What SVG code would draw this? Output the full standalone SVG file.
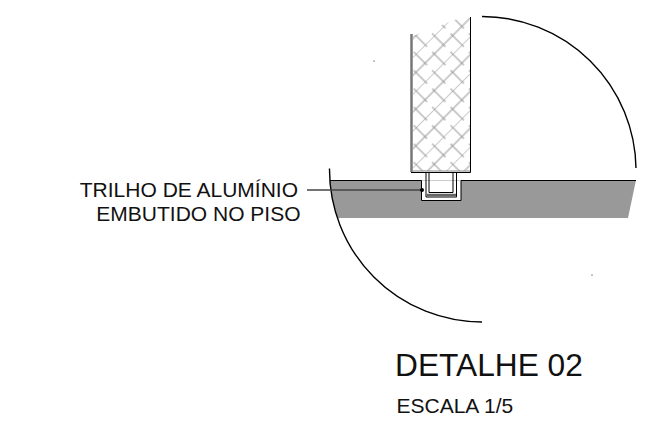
<svg xmlns="http://www.w3.org/2000/svg" width="668" height="445" viewBox="0 0 668 445">
<style>
.t{font-family:"Liberation Sans",Arial,sans-serif;fill:#111}
.arc{fill:none;stroke:#000;stroke-width:1.4}
.k{fill:none;stroke:#000;stroke-width:1}
.h{stroke:#8c8c8c;stroke-width:.9;fill:none}
</style>
<defs>
<pattern id="hatch" width="26" height="26" patternUnits="userSpaceOnUse" patternTransform="translate(413 20) rotate(-45)">
<path class="h" d="M0 0H26M0 13H26M4 -3V16M4 23V26M17 10V26M17 0V3"/>
</pattern>
<clipPath id="wc"><polygon points="413,36 470,14 470,171 413,171"/></clipPath>
</defs>
<rect width="668" height="445" fill="#fff"/>
<g id="floor">
<path d="M329.500 180H636L628 218H338A152.500 152.500 0 0 1 329.500 180Z" fill="#999"/>
<path d="M421.500 180.500V200.500H461V180.500Z" fill="#fff"/>
<path d="M330 180.500H421.500V200.500H461V180.500H636" class="k" stroke-width="1.200"/>
</g>
<g id="wall">
<rect x="413" y="18" width="57" height="153" fill="url(#hatch)" clip-path="url(#wc)"/>
<path d="M411.500 34V172" stroke="#777" stroke-width="2.500" fill="none"/>
<path d="M470.500 17V172.500H411" class="k" stroke-width="1.500"/>
<path d="M413 171H470" stroke="#888" fill="none"/>
</g>
<g id="rail">
<path d="M426 172.500V197H456.500V172.500" class="k"/>
<path d="M429 172.500V192.500H453V172.500" class="k"/>
<path d="M426.500 195H456" stroke="#666" stroke-width="2.500" fill="none"/>
</g>
<g id="arcs">
<path class="arc" d="M482 16.500A154 154 0 0 1 636 168"/>
<path class="arc" d="M329.500 168.500A152.500 152.500 0 0 0 482 322"/>
<circle cx="374" cy="61" r=".6" fill="#000"/>
<circle cx="592" cy="275" r=".6" fill="#000"/>
</g>
<g id="connectors">
<path d="M307 190H421" stroke="#444" stroke-width="1.500" fill="none"/>
<circle cx="422" cy="190" r="2" fill="#000"/>
</g>
<g id="labels">
<text class="t" x="298" y="197" font-size="21" text-anchor="end">TRILHO DE ALUMÍNIO</text>
<text class="t" x="300.500" y="221" font-size="21" text-anchor="end">EMBUTIDO NO PISO</text>
<text class="t" x="395" y="376" font-size="31.700">DETALHE 02</text>
<text class="t" x="396.500" y="413" font-size="21">ESCALA 1/5</text>
</g>
</svg>
